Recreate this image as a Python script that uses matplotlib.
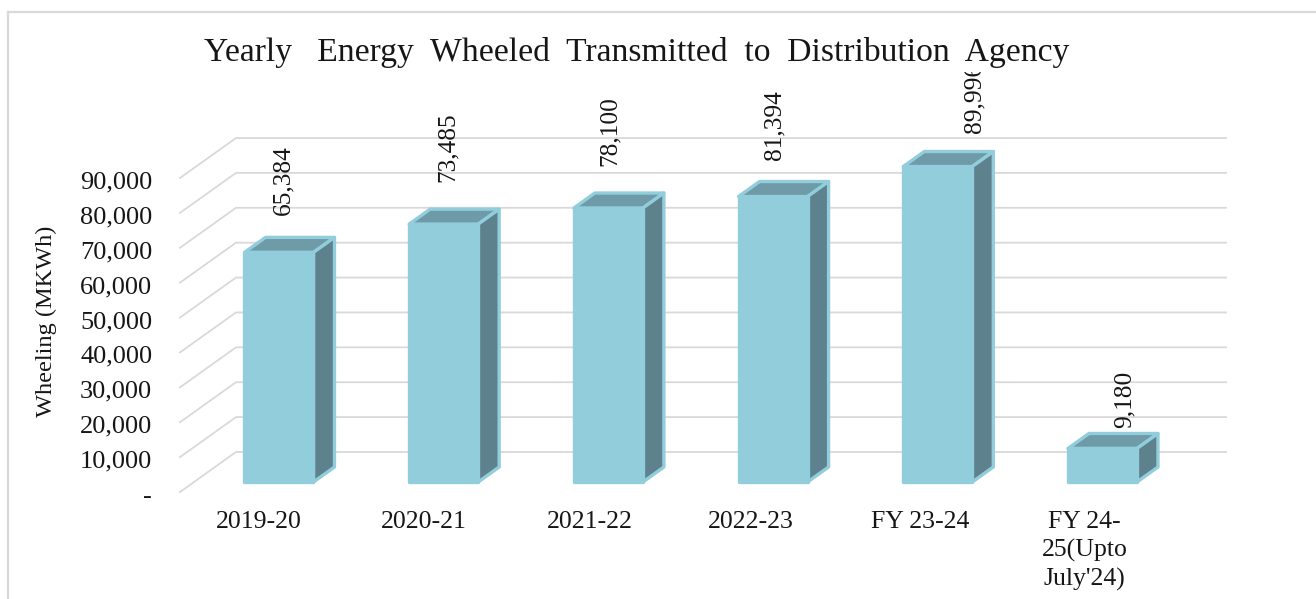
import matplotlib
matplotlib.use("Agg")
import matplotlib.pyplot as plt
from matplotlib.lines import Line2D
from matplotlib.patches import Polygon
from matplotlib.transforms import Bbox, Affine2D

categories = ["2019-20", "2020-21", "2021-22", "2022-23", "FY 23-24", "FY 24-\n25(Upto\nJuly'24)"]
wheeling = [65384, 73485, 78100, 81394, 89996, 9180]
y_ticks = [0, 10000, 20000, 30000, 40000, 50000, 60000, 70000, 80000, 90000]
title = "Yearly   Energy  Wheeled  Transmitted  to  Distribution  Agency"
y_label = "Wheeling (MKWh)"

W, H = 1316, 599
plt.rcParams["font.family"] = ["Liberation Serif", "DejaVu Serif"]
INK = "#161616"
GRID = "#D9D9D9"
FRONT = "#92CDDC"
TOP = "#6F9AA8"
SIDE = "#5D828D"

fig = plt.figure(figsize=(W / 100, H / 100), dpi=100, facecolor="white")
ax = fig.add_axes([180 / W, (H - 492) / H, 990 / W, 314 / H])
xmin, xmax = -0.516, 5.495
ax.set_xlim(xmin, xmax)
ax.set_ylim(0, 90000)
ax.patch.set_visible(False)
for s in ax.spines.values():
    s.set_visible(False)

px_x = (xmax - xmin) / 990
px_y = 90000 / 314
depth_x = 56 * px_x
depth_y = 40 * px_y

# outer frame
fig.add_artist(Line2D([8 / W, 8 / W], [0, (H - 12) / H], color=GRID, lw=1.6))
fig.add_artist(Line2D([8 / W, 1], [(H - 12) / H, (H - 12) / H], color=GRID, lw=1.6))

# walls
for v in y_ticks:
    ax.plot([xmin, xmin + depth_x, xmax + depth_x], [v, v + depth_y, v + depth_y],
            color=GRID, lw=1.3, clip_on=False, zorder=1, solid_joinstyle="miter")

# 3-D bars
half = 34.5 * px_x
d1, d2 = 0.25, 0.625
lift = 1.5 * px_y
for i, v in enumerate(wheeling):
    l, r = i - half, i + half
    x1, y1 = d1 * depth_x, d1 * depth_y
    x2, y2 = d2 * depth_x, d2 * depth_y
    t = v + lift
    top = Polygon([(l + x1, t + y1), (r + x1, t + y1), (r + x2, t + y2), (l + x2, t + y2)], closed=True)
    side = Polygon([(r + x1, y1), (r + x2, y2), (r + x2, t + y2), (r + x1, t + y1)], closed=True)
    front = Polygon([(l + x1, y1), (r + x1, y1), (r + x1, t + y1), (l + x1, t + y1)], closed=True)
    for patch, col in ((top, TOP), (side, SIDE), (front, FRONT)):
        patch.set(facecolor=col, edgecolor=FRONT, linewidth=2.4, joinstyle="round", clip_on=False, zorder=3)
        ax.add_patch(patch)

# value labels (manual label placement as in the source chart)
nudge_x = [18, 18, 15, 15, 51, 36]
nudge_y = [49, 54, 54, 48, 45, 32]
for i, v in enumerate(wheeling):
    t = ax.annotate(f"{v:,}", (i, v), xytext=(nudge_x[i] * 0.72, nudge_y[i] * 0.72),
                    textcoords="offset points", rotation=90, ha="center", va="bottom",
                    fontsize=18.3, color=INK, annotation_clip=False, zorder=5)
    t.set_clip_box(Bbox([[0, 0], [W, H - 72]]))
    t.set_clip_on(True)

# axes text
ax.set_yticks(y_ticks)
ax.set_yticklabels(["-" if v == 0 else f"{v:,}" for v in y_ticks], fontsize=19, color=INK)
ax.set_xticks(range(len(categories)))
ax.set_xticklabels(categories, fontsize=18.5, color=INK, linespacing=1.33)
ax.tick_params(axis="both", length=0)
ax.tick_params(axis="y", pad=20)
ax.tick_params(axis="x", pad=14)
for lab, dx in zip(ax.get_xticklabels(), [-6, -6, -5, -8, -4, -4]):
    lab.set_transform(lab.get_transform() + Affine2D().translate(dx, 0))
for lab in ax.get_yticklabels():
    lab.set_transform(lab.get_transform() + Affine2D().translate(0, -2))

fig.text(46.5 / W, (H - 321) / H, y_label, rotation=90, ha="center", va="center", fontsize=17.6, color=INK)
fig.text(637 / W, (H - 52) / H, title, ha="center", va="center", fontsize=24.2, color=INK)

fig.savefig("out.png", dpi=100, facecolor="white")
